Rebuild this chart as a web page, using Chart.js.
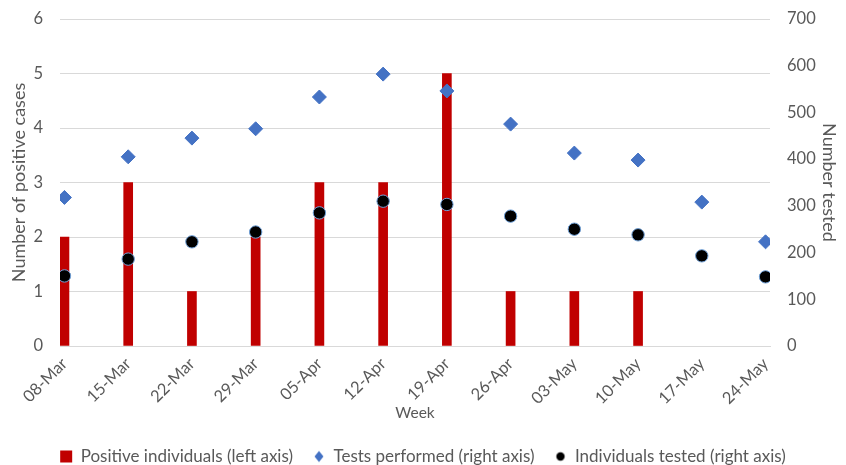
<!DOCTYPE html>
<html>
<head>
<meta charset="utf-8">
<script src="https://cdn.jsdelivr.net/npm/chart.js@4.4.1/dist/chart.umd.min.js"></script>
<style>
html,body{margin:0;padding:0;background:#fff;}
#wrap{width:846px;height:465px;position:relative;}
</style>
</head>
<body>
<div id="wrap"><canvas id="c" width="846" height="465"></canvas></div>
<script>
const weeks = ['08-Mar','15-Mar','22-Mar','29-Mar','05-Apr','12-Apr','19-Apr','26-Apr','03-May','10-May','17-May','24-May'];
const positiveIndividuals = [2,3,1,2,3,3,5,1,1,1,0,0];
const testsPerformed = [318,405,445,465,533,582,546,475,413,398,308,223];
const individualsTested = [150,186,223,244,285,310,303,278,250,238,193,148];
const leftTicks = [0,1,2,3,4,5,6];
const rightTicks = [0,100,200,300,400,500,600,700];

const FONT = 'Lato, "Open Sans", sans-serif';
const GREY = '#595959';

function icon(kind){
  const cv = document.createElement('canvas');
  const s = 14; cv.width = s; cv.height = s;
  const g = cv.getContext('2d');
  if(kind==='rect'){ g.fillStyle='#C00000'; g.fillRect(1,1,12,12); }
  if(kind==='diamond'){ g.fillStyle='#4472C4'; g.beginPath(); g.moveTo(7,1.5); g.lineTo(11.5,7); g.lineTo(7,12.5); g.lineTo(2.5,7); g.closePath(); g.fill(); }
  if(kind==='circle'){ g.fillStyle='#000'; g.beginPath(); g.arc(7,7,4.2,0,Math.PI*2); g.fill(); }
  return cv;
}
const icons = [icon('rect'), icon('diamond'), icon('circle')];

const toXY = arr => arr.map((v,i)=>({x:i,y:v}));
const BOTTOM_SHIFT = 10;

new Chart(document.getElementById('c'), {
  data: {
    datasets: [
      {type:'bar', label:'Positive individuals (left axis)', data: toXY(positiveIndividuals).filter(p=>p.y>0), yAxisID:'y', xAxisID:'x',
       backgroundColor:'#C00000', borderWidth:0, barThickness:9, order:3},
      {type:'scatter', label:'Tests performed (right axis)', data: toXY(testsPerformed), yAxisID:'y1', xAxisID:'x',
       pointStyle:'rectRot', pointRadius:7, pointHoverRadius:7, backgroundColor:'#4472C4', borderColor:'#4472C4', borderWidth:1, order:2},
      {type:'scatter', label:'Individuals tested (right axis)', data: toXY(individualsTested), yAxisID:'y1', xAxisID:'x',
       pointStyle:'circle', pointRadius:6.2, pointHoverRadius:6.2, backgroundColor:'#000000', borderColor:'#6FA0D8', borderWidth:1, order:1}
    ]
  },
  options: {
    responsive:false, animation:false, devicePixelRatio:1,
    layout:{padding:{top:19,bottom:-BOTTOM_SHIFT,left:0,right:0}},
    plugins:{
      tooltip:{enabled:false},
      legend:{position:'bottom',
        labels:{usePointStyle:true, boxWidth:12, boxHeight:12, padding:20, color:GREY, font:{family:FONT,size:17},
          sort:(a,b)=>a.datasetIndex-b.datasetIndex,
          generateLabels:(chart)=>chart.data.datasets.map((d,i)=>({text:d.label, datasetIndex:i, pointStyle:icons[i], fillStyle:'#000', strokeStyle:'#000', lineWidth:0, hidden:false, fontColor:GREY}))
        }}
    },
    scales:{
      x:{type:'linear', position:'bottom', min:-0.07, max:11.07, offset:false,
        grid:{display:false, drawTicks:false}, border:{display:true,color:'#D9D9D9'},
        ticks:{stepSize:1, includeBounds:false, autoSkip:false, minRotation:45, maxRotation:45, padding:8, color:GREY, font:{family:FONT,size:16.5},
          callback:(v)=>Number.isInteger(v)?weeks[v]:''},
        title:{display:true, text:'Week', color:GREY, font:{family:FONT,size:15.5}, padding:{top:0,bottom:6}},
        afterFit:(s)=>{ s.paddingLeft = 0; s.paddingRight = 0; const lh = s.chart.legend ? s.chart.legend.height : 50; s.height = 465 + BOTTOM_SHIFT - lh - 346; }
      },
      y:{type:'linear', position:'left', min:0, max:6,
        afterBuildTicks:(s)=>{ s.ticks = leftTicks.map(v=>({value:v})); },
        grid:{color:'#D9D9D9', drawTicks:false}, border:{display:false},
        ticks:{padding:17, color:GREY, font:{family:FONT,size:16.5}},
        title:{display:true, text:'Number of positive cases', color:GREY, font:{family:FONT,size:18}, padding:{top:8,bottom:0}},
        afterFit:(s)=>{ s.width = 60; s.paddingTop = 0; s.paddingBottom = 0; }
      },
      y1:{type:'linear', position:'right', min:0, max:700,
        afterBuildTicks:(s)=>{ s.ticks = rightTicks.map(v=>({value:v})); },
        grid:{display:false, drawTicks:false}, border:{display:false},
        ticks:{padding:17, color:GREY, font:{family:FONT,size:16.5}},
        title:{display:true, text:'Number tested', color:GREY, font:{family:FONT,size:18}, padding:{top:6,bottom:0}},
        afterFit:(s)=>{ s.width = 76; s.paddingTop = 0; s.paddingBottom = 0; }
      }
    }
  }
});
</script>
</body>
</html>
